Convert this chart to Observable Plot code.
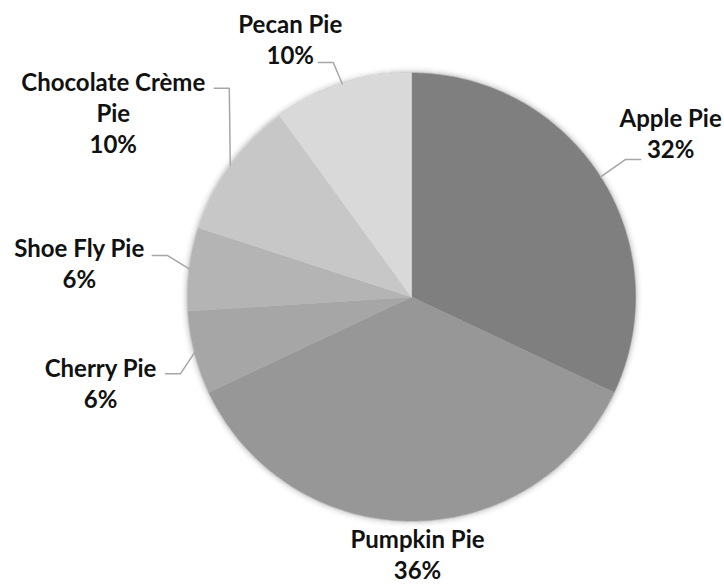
<!DOCTYPE html>
<html><head><meta charset="utf-8">
<script src="https://cdn.jsdelivr.net/npm/d3@7"></script>
<script src="https://cdn.jsdelivr.net/npm/@observablehq/plot@0.6"></script>
<style>body{margin:0;background:#fff}</style>
</head><body><div id="chart"></div>
<script>
// Data
const pies = ["Apple Pie", "Pumpkin Pie", "Cherry Pie", "Shoe Fly Pie", "Chocolate Crème Pie", "Pecan Pie"];
const shares = [32, 36, 6, 6, 10, 10];
const labelNames = ["Apple Pie", "Pumpkin Pie", "Cherry Pie", "Shoe Fly Pie", "Chocolate Crème\nPie", "Pecan Pie"];
const colors = ["#7f7f7f", "#979797", "#a6a6a6", "#b4b4b4", "#c7c7c7", "#d9d9d9"];

// Layout (pixels)
const W = 724, H = 584, R = 224, cx = 411, cy = 296.5;
const labelOffset = [[70, -44], [6, 33], [-94, 30], [-110, -6], [-117, -53], [-52, -45]];
const leaderElbow = [[25, -17.5], null, [-14, 21], [-22, -13.5], [-1, -77], [-9, -21.5]];
const leaderRun = 15;
const shadowOpacity = [0.16, 0.11, 0.075, 0.05, 0.03, 0.018, 0.01];

const arcs = d3.pie().sort(null).value(d => d)(shares);
const slicePts = [];
const labels = [];
const leaders = [];
arcs.forEach((a, i) => {
  const n = Math.max(2, Math.ceil((a.endAngle - a.startAngle) / (Math.PI / 360)));
  slicePts.push({name: pies[i], x: 0, y: 0});
  for (let k = 0; k <= n; k++) {
    const t = a.startAngle + (a.endAngle - a.startAngle) * k / n;
    slicePts.push({name: pies[i], x: Math.sin(t), y: Math.cos(t)});
  }
  slicePts.push({name: pies[i], x: 0, y: 0});
  const mid = (a.startAngle + a.endAngle) / 2;
  const ex = Math.sin(mid), ey = Math.cos(mid);
  labels.push({
    text: labelNames[i] + "\n" + shares[i] + "%",
    x: ex + labelOffset[i][0] / R,
    y: ey - labelOffset[i][1] / R
  });
  const el = leaderElbow[i];
  if (el) {
    const side = el[0] >= 0 ? 1 : -1;
    leaders.push({name: pies[i], x: ex, y: ey});
    leaders.push({name: pies[i], x: ex + el[0] / R, y: ey - el[1] / R});
    leaders.push({name: pies[i], x: ex + (el[0] + side * leaderRun) / R, y: ey - el[1] / R});
  }
});

// soft halo rings around the pie (shadow)
const rings = shadowOpacity.map((op, k) => {
  const rr = 1 + (k + 0.5) / R;
  return d3.range(0, 361, 1).map(deg => ({x: rr * Math.sin(deg * Math.PI / 180), y: rr * Math.cos(deg * Math.PI / 180)}));
});

const chart = Plot.plot({
  width: W, height: H,
  marginLeft: cx - R, marginRight: W - cx - R,
  marginTop: cy - R, marginBottom: H - cy - R,
  x: {domain: [-1, 1], axis: null},
  y: {domain: [-1, 1], axis: null},
  style: {fontFamily: "Lato, 'Open Sans', sans-serif", background: "#fff"},
  marks: [
    ...rings.map((pts, k) => Plot.line(pts, {x: "x", y: "y", stroke: "#000", strokeOpacity: shadowOpacity[k], strokeWidth: 1.2})),
    ...pies.map((p, i) => Plot.line(slicePts.filter(d => d.name === p), {x: "x", y: "y", fill: colors[i], stroke: colors[i], strokeWidth: 0.6})),
    Plot.line(leaders, {x: "x", y: "y", z: "name", stroke: "#a6a6a6", strokeWidth: 1.5}),
    Plot.text(labels, {x: "x", y: "y", text: "text", fontSize: 24, fontWeight: "bold", fill: "#111", lineHeight: 31 / 24})
  ]
});
document.getElementById("chart").appendChild(chart);
</script>
</body></html>
